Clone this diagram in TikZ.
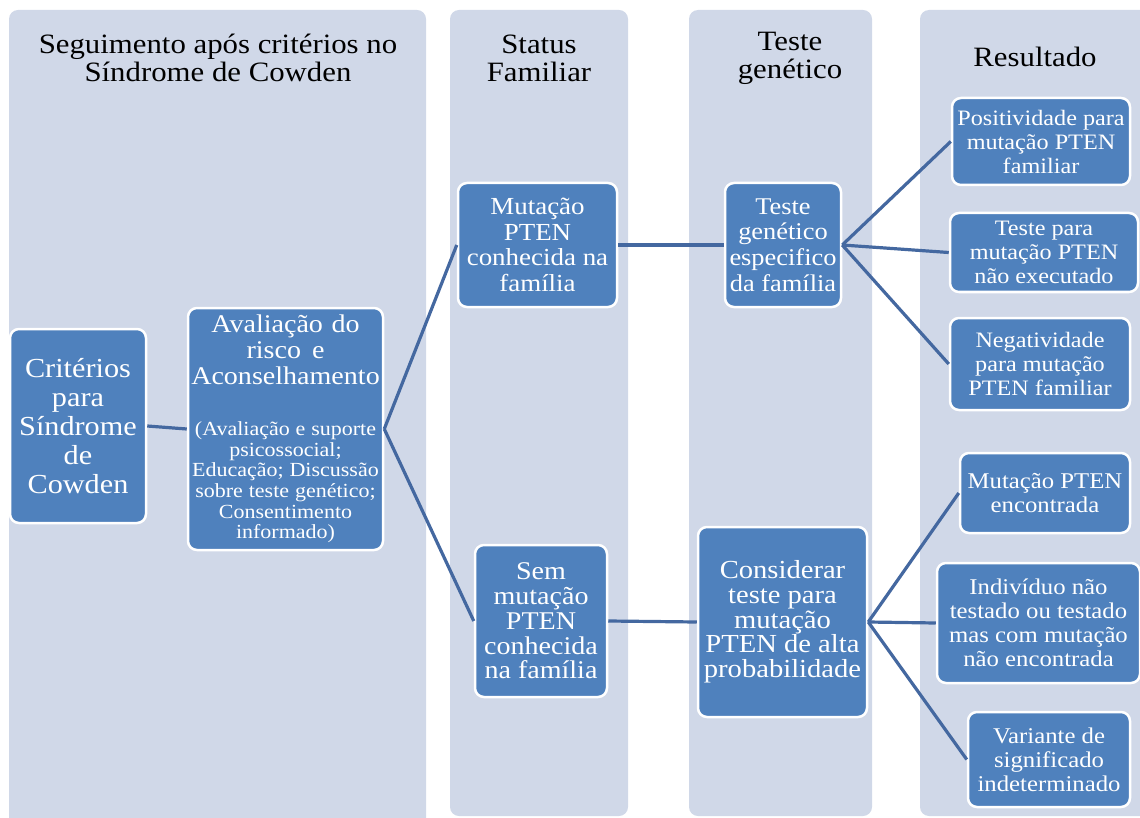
\documentclass[tikz,border=0pt]{standalone}
\usepackage{fontspec}
\setmainfont{Liberation Serif}[FakeStretch=1.1]
\definecolor{colbg}{RGB}{208,216,232}
\definecolor{nodeblue}{RGB}{79,129,189}
\definecolor{linkblue}{RGB}{68,104,160}
\tikzset{
  colbox/.style={fill=colbg, draw=none, rounded corners=9pt},
  bluebox/.style={draw=white, line width=2.5pt, fill=nodeblue, rounded corners=9pt,
    text=white, align=center, inner sep=0pt},
  headtxt/.style={align=center, text=black, inner sep=0pt, font=\fontsize{28}{28}\selectfont},
  link/.style={draw=linkblue, line width=3.2pt},
}
\begin{document}
\begin{tikzpicture}[x=1pt,y=-1pt]
\useasboundingbox (0,0) rectangle (1140,818);
% columns
\fill[colbox] (9,10) rectangle (426,830);
\fill[colbox] (450,10) rectangle (628,816);
\fill[colbox] (689,10) rectangle (872,816);
\fill[colbox] (920,10) rectangle (1160,816);
% headers
\node[headtxt] (h1) at (218,58) {Seguimento após critérios no\\Síndrome de Cowden};
\node[headtxt] (h2) at (539,58) {Status\\Familiar};
\node[headtxt] (h3) at (790,58) {Teste\\genético};
\node[headtxt] (h4) at (1035,57) {Resultado};
% nodes
\node[bluebox, minimum width=136, minimum height=194, font=\fontsize{27.5}{29}\selectfont] (crit) at (78,426)
  {Critérios\\para\\Síndrome\\de\\Cowden};
\node[bluebox, minimum width=195, minimum height=242, text width=194, font=\fontsize{25.5}{26}\selectfont] (aval) at (285.5,429)
  {\spaceskip=0pt\xspaceskip=0pt Avaliação do\\risco e\\Aconselhamento\par
   \vspace{30pt}
   \fontsize{20}{20.7}\selectfont\spaceskip=0pt (Avaliação e suporte\\psicossocial;\\Educação; Discussão\\sobre teste genético;\\Consentimento\\informado)\par};
\node[bluebox, minimum width=159, minimum height=124, font=\fontsize{24.5}{25.6}\selectfont] (mut) at (537.5,245)
  {Mutação\\PTEN\\conhecida na\\família};
\node[bluebox, minimum width=116, minimum height=124, font=\fontsize{24}{25.6}\selectfont] (tgen) at (783,245)
  {Teste\\genético\\especifico\\da família};
\node[bluebox, minimum width=132, minimum height=152, font=\fontsize{25.5}{24.7}\selectfont] (sem) at (541,621)
  {Sem\\mutação\\PTEN\\conhecida\\na família};
\node[bluebox, minimum width=169, minimum height=190, font=\fontsize{26}{24.7}\selectfont] (cons) at (782.5,622)
  {Considerar\\teste para\\mutação\\PTEN de alta\\probabilidade};
\node[bluebox, minimum width=178, minimum height=87, font=\fontsize{22}{24}\selectfont] (pos) at (1041,141.5)
  {Positividade para\\mutação PTEN\\familiar};
\node[bluebox, minimum width=188, minimum height=79, font=\fontsize{22}{24}\selectfont] (tpara) at (1044,252.5)
  {Teste para\\mutação PTEN\\não executado};
\node[bluebox, minimum width=180, minimum height=92, font=\fontsize{22}{24}\selectfont] (neg) at (1040,364)
  {Negatividade\\para mutação\\PTEN familiar};
\node[bluebox, minimum width=170, minimum height=80, font=\fontsize{22.5}{24}\selectfont] (menc) at (1045,493)
  {Mutação PTEN\\encontrada};
\node[bluebox, minimum width=203, minimum height=120, font=\fontsize{22.5}{24}\selectfont] (indiv) at (1038.5,623)
  {Indivíduo não\\testado ou testado\\mas com mutação\\não encontrada};
\node[bluebox, minimum width=162, minimum height=95, font=\fontsize{22.5}{24}\selectfont] (var) at (1049,759.5)
  {Variante de\\significado\\indeterminado};
% connectors
\draw[link] (crit.east) -- (aval.west);
\draw[link] (aval.east) -- (mut.west);
\draw[link] (aval.east) -- (sem.west);
\draw[link] (mut.east) -- (tgen.west);
\draw[link] (sem.east) -- (cons.west);
\draw[link] (tgen.east) -- (pos.west);
\draw[link] (tgen.east) -- (tpara.west);
\draw[link] (tgen.east) -- (neg.west);
\draw[link] (cons.east) -- (menc.west);
\draw[link] (cons.east) -- (indiv.west);
\draw[link] (cons.east) -- (var.west);
\end{tikzpicture}
\end{document}
